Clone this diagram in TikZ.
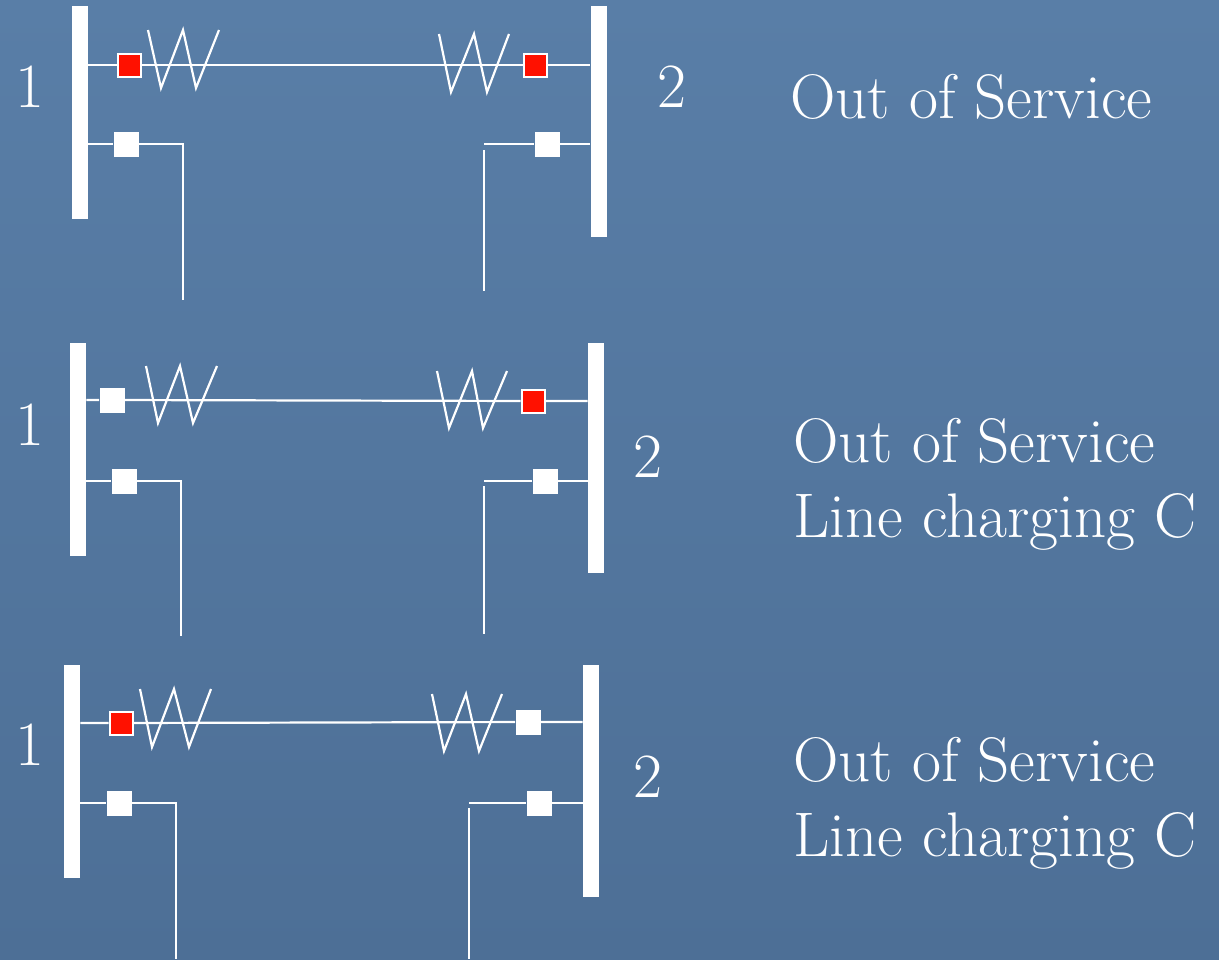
\documentclass[tikz,border=0pt]{standalone}
\definecolor{slidetop}{RGB}{89,126,167}
\definecolor{slidebottom}{RGB}{77,111,150}
\definecolor{brkred}{RGB}{255,17,0}

\begin{document}
\begin{tikzpicture}[x=0.5pt, y=-0.5pt,
  bus/.style={rectangle, fill=white, inner sep=0pt, minimum width=8pt},
  brk/.style={rectangle, fill=white, inner sep=0pt, minimum size=12.5pt},
  brkopen/.style={rectangle, fill=brkred, draw=white, line width=1pt, inner sep=0pt, minimum size=11.5pt},
  wire/.style={white, line width=1.1pt},
  lbl/.style={text=white, anchor=base west, inner sep=0pt, font=\fontsize{31.5}{38}\selectfont}]
  \useasboundingbox (0,0) rectangle (1219,959);
  \fill[top color=slidetop, bottom color=slidebottom] (0,0) rectangle (1219,959);

  % first case
  \node[bus, minimum height=106.5pt] (b1a) at (80, 112.5) {};
  \node[bus, minimum height=115.5pt] (b2a) at (598.5, 121.5) {};
  \node[brkopen] (k1a) at (129, 65) {};
  \node[brkopen] (k2a) at (535, 65) {};
  \node[brk] (kl1a) at (126, 144) {};
  \node[brk] (kl2a) at (547, 144) {};
  \coordinate (c1a) at (183, 144);
  \coordinate (e1a) at (183, 300);
  \coordinate (c2a) at (484, 144);
  \coordinate (d2a) at (484, 150);
  \coordinate (e2a) at (484, 291);
  \draw[wire] (b1a.east |- k1a) -- (k1a) -- (k2a) -- (k2a -| b2a.west);
  \draw[wire] (148,30) -- (161,88) -- (183,30) -- (196,88) -- (219,30);
  \draw[wire] (439,34) -- (451,92) -- (474,34) -- (487,92) -- (509,34);
  \draw[wire] (b1a.east |- kl1a) -- (kl1a) -- (c1a) -- (e1a);
  \draw[wire] (b2a.west |- kl2a) -- (kl2a) -- (c2a);
  \draw[wire] (d2a) -- (e2a);
  \node[lbl] (n1a) at (15, 107) {1};
  \node[lbl] (n2a) at (657, 107) {2};
  \node[lbl] (t1a) at (790, 118) {Out of Service};

  % second case
  \node[bus, minimum height=106.5pt] (b1b) at (78, 449.5) {};
  \node[bus, minimum height=115pt] (b2b) at (596, 458) {};
  \node[brk] (k1b) at (112, 400) {};
  \node[brkopen] (k2b) at (533, 401) {};
  \node[brk] (kl1b) at (124, 481) {};
  \node[brk] (kl2b) at (545, 481) {};
  \coordinate (c1b) at (181, 481);
  \coordinate (e1b) at (181, 636);
  \coordinate (c2b) at (484, 481);
  \coordinate (d2b) at (484, 486);
  \coordinate (e2b) at (484, 634);
  \draw[wire] (b1b.east |- k1b) -- (k1b) -- (k2b) -- (k2b -| b2b.west);
  \draw[wire] (146,366) -- (158,423) -- (180,366) -- (193,423) -- (217,366);
  \draw[wire] (437,371) -- (449,428) -- (472,371) -- (483,428) -- (507,371);
  \draw[wire] (b1b.east |- kl1b) -- (kl1b) -- (c1b) -- (e1b);
  \draw[wire] (b2b.west |- kl2b) -- (kl2b) -- (c2b);
  \draw[wire] (d2b) -- (e2b);
  \node[lbl] (n1b) at (15, 445) {1};
  \node[lbl] (n2b) at (633, 477) {2};
  \node[lbl] (t1b) at (793, 462) {Out of Service};
  \node[lbl] (t2b) at (793, 537) {Line charging C};

  % third case
  \node[bus, minimum height=106.5pt] (b1c) at (72, 771.5) {};
  \node[bus, minimum height=116pt] (b2c) at (591, 781) {};
  \node[brkopen] (k1c) at (121, 723) {};
  \node[brk] (k2c) at (528, 722) {};
  \node[brk] (kl1c) at (119, 803) {};
  \node[brk] (kl2c) at (539, 803) {};
  \coordinate (c1c) at (176, 803);
  \coordinate (e1c) at (176, 959);
  \coordinate (c2c) at (469, 803);
  \coordinate (d2c) at (469, 808);
  \coordinate (e2c) at (469, 959);
  \draw[wire] (b1c.east |- k1c) -- (k1c) -- (k2c) -- (k2c -| b2c.west);
  \draw[wire] (140,689) -- (152,747) -- (174,689) -- (189,747) -- (211,689);
  \draw[wire] (432,694) -- (444,751) -- (466,694) -- (479,751) -- (502,694);
  \draw[wire] (b1c.east |- kl1c) -- (kl1c) -- (c1c) -- (e1c);
  \draw[wire] (b2c.west |- kl2c) -- (kl2c) -- (c2c);
  \draw[wire] (d2c) -- (e2c);
  \node[lbl] (n1c) at (15, 765) {1};
  \node[lbl] (n2c) at (633, 797) {2};
  \node[lbl] (t1c) at (793, 781) {Out of Service};
  \node[lbl] (t2c) at (793, 856) {Line charging C};
\end{tikzpicture}
\end{document}
